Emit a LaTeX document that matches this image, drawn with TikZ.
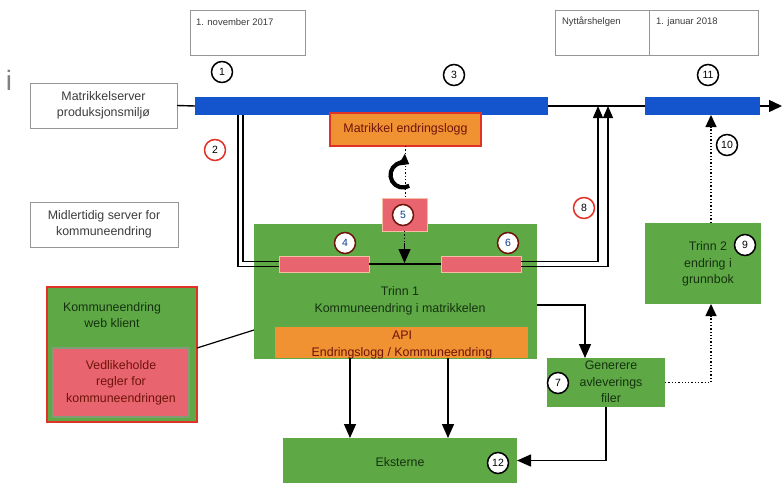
\documentclass[tikz,border=0pt]{standalone}
\usepackage{fontspec}
\setmainfont{Liberation Sans}
\usetikzlibrary{arrows.meta}
\definecolor{grn}{RGB}{95,168,70}
\definecolor{pnk}{RGB}{232,100,110}
\definecolor{org}{RGB}{240,145,50}
\definecolor{rbd}{RGB}{225,50,40}
\definecolor{blu}{RGB}{20,85,205}
\definecolor{gbd}{RGB}{150,150,150}
\definecolor{dtx}{RGB}{60,60,60}
\definecolor{gtx}{RGB}{20,50,15}
\definecolor{rtx}{RGB}{110,20,10}
\definecolor{pbd}{RGB}{245,190,160}
\begin{document}
\begin{tikzpicture}[x=1pt,y=-1pt,
  every node/.style={inner sep=0pt, outer sep=0pt},
  wbox/.style={draw=gbd, line width=0.8pt, fill=white, rectangle},
  gbox/.style={fill=grn, rectangle},
  bar/.style={fill=blu, rectangle},
  pbar/.style={fill=pnk, draw=pbd, line width=0.8pt, rectangle},
  obox/.style={fill=org, draw=rbd, line width=1.6pt, rectangle},
  txt/.style={align=center, font=\fontsize{12.4}{16.5}\selectfont},
  dtxt/.style={font=\fontsize{9.5}{11}\selectfont, text=dtx, anchor=west},
  num/.style={circle, draw=black, line width=1.5pt, fill=white, minimum size=21pt, font=\fontsize{10.5}{11}\selectfont},
  rnum/.style={num, draw=rbd},
  pnum/.style={num, draw=rtx, text=blu!70!black},
  conn/.style={line width=1.4pt},
  tip/.style={-{Triangle[length=14pt,width=12pt]}},
  arr/.style={conn, tip},
  dots/.style={line width=1.3pt, dotted}
]
\useasboundingbox (0,0) rectangle (782,483);

% stray letter
\node[text=gray, font=\fontsize{28}{30}\selectfont] (ii) at (9,80) {i};

% date boxes
\node[wbox, minimum width=115pt, minimum height=45pt] (d1) at (247.5,32.5) {};
\node[dtxt] (d1t) at (196,22) {1. november 2017};
\node[wbox, minimum width=94pt, minimum height=45pt] (d2a) at (602,32.5) {};
\node[wbox, minimum width=109pt, minimum height=45pt] (d2b) at (703.5,32.5) {};
\node[dtxt] (d2at) at (562,22) {Nyttårshelgen};
\node[dtxt] (d2bt) at (656,22) {1. januar 2018};

% left labels
\node[wbox, minimum width=147pt, minimum height=45pt, txt, text=dtx] (ms) at (103.5,105.5) {Matrikkelserver\\produksjonsmiljø};
\node[wbox, minimum width=148pt, minimum height=45pt, txt, text=dtx] (mid) at (104,224.5) {Midlertidig server for\\kommuneendring};

% time line
\node[bar, minimum width=353pt, minimum height=18pt] (bar1) at (371.5,106) {};
\node[bar, minimum width=115pt, minimum height=18pt] (bar2) at (702.5,106) {};
\coordinate (tend) at (782,106);
\draw[conn] (ms.east) -- (bar1.west);
\draw[conn] (bar1.east) -- (bar2.west);
\draw[conn, -{Triangle[length=13pt,width=12pt]}] (bar2.east) -- (tend);
\coordinate (j1) at (598,106);
\coordinate (j2) at (608,106);

% endringslogg
\node[obox, minimum width=151pt, minimum height=33pt, txt, text=rtx] (log) at (405.5,129.5) {Matrikkel endringslogg};

% Trinn 1
\node[gbox, minimum width=283pt, minimum height=135pt] (t1) at (395.5,291.5) {};
\node[txt, text=gtx] (t1t) at (400,301) {Trinn 1\\Kommuneendring i matrikkelen};
\node[fill=org, rectangle, minimum width=253pt, minimum height=31pt] (api) at (401.5,342.5) {};
\node[txt, text=rtx] (apit) at (402,345) {API\\Endringslogg / Kommuneendring};
\node[pbar, minimum width=90pt, minimum height=16pt] (p4) at (324,264) {};
\node[pbar, minimum width=80pt, minimum height=16pt] (p6) at (481,264) {};
\node[pbar, minimum width=45pt, minimum height=33pt] (b5) at (404.5,214.5) {};
\draw[conn] (p4.east) -- (p6.west);

% cycle symbol and dotted link
\draw[dots, line width=1pt] (log.south) -- (log.south |- b5.north);
\coordinate (cyc) at (403,175);
\draw[line width=4.2pt, -{Triangle[length=9pt,width=13pt]}] (cyc) ++(60:12.5) arc[start angle=60, end angle=300, radius=12.5];

% 5 -> line
\coordinate (m5) at (404.5,263);
\draw[dots, line width=1pt] (b5.south) -- ++(0,12);
\draw[arr] ([yshift=-12pt]b5.south) -- (m5);

% double lines left
\coordinate (s1) at (238,115);
\coordinate (s2) at (243,115);
\draw[line width=1.2pt] (s1) |- ([yshift=-2.5pt]p4.west);
\draw[line width=1.2pt] (s2) |- ([yshift=2.5pt]p4.west);
% double lines right
\draw[line width=1.2pt, -{Triangle[length=12pt,width=10pt]}] ([yshift=2.5pt]p6.east) -| (j1);
\draw[line width=1.2pt, -{Triangle[length=12pt,width=10pt]}] ([yshift=-2.5pt]p6.east) -| (j2);

% Trinn 2
\node[gbox, minimum width=116pt, minimum height=81pt] (t2) at (703,263.5) {};
\node[txt, text=gtx] (t2t) at (708,264) {Trinn 2\\endring i\\grunnbok};
\draw[dots, -{Triangle[length=12pt,width=11pt]}] ([xshift=8pt]t2.north) -- ([xshift=8pt]t2.north |- bar2.south);

% Generere
\node[gbox, minimum width=118pt, minimum height=49pt] (gen) at (606,382.5) {};
\node[txt, text=gtx] (gent) at (611,382) {Generere\\avleverings\\filer};
\draw[arr] ([yshift=-13.5pt]t1.east) -| ([xshift=-21pt]gen.north);
\draw[dots, -{Triangle[length=12pt,width=11pt]}] (gen.east) -| ([xshift=8pt]t2.south);

% Eksterne
\node[gbox, minimum width=234pt, minimum height=45pt] (ek) at (400,460.5) {};
\node[txt, text=gtx] (ekt) at (400,462) {Eksterne};
\draw[arr] ([xshift=-51.5pt]api.south) -- ([xshift=-51.5pt]api.south |- ek.north);
\draw[arr] ([xshift=46.5pt]api.south) -- ([xshift=46.5pt]api.south |- ek.north);
\draw[arr] (gen.south) |- (ek.east);

% web client
\node[gbox, draw=rbd, line width=1.8pt, minimum width=150pt, minimum height=135pt] (web) at (122,354.5) {};
\node[txt, text=gtx] (webt) at (112,315) {Kommuneendring\\web klient};
\node[fill=pnk, draw=gbd!60!grn, line width=1.5pt, rectangle, minimum width=136pt, minimum height=69pt, txt, text=rtx] (ved) at (121,382.5) {Vedlikeholde\\regler for\\kommuneendringen};
\draw[conn, line width=1.2pt] ([yshift=6.5pt]web.east) -- ([yshift=-38.5pt]t1.west);

% numbers
\node[num] (c1) at (222,72) {1};
\node[rnum] (c2) at (215,150) {2};
\node[num] (c3) at (454,75) {3};
\node[pnum] (c4) at (345,243) {4};
\node[pnum] (c5) at (403,215) {5};
\node[pnum] (c6) at (508,243) {6};
\node[num] (c7) at (558,383) {7};
\node[rnum] (c8) at (584,208) {8};
\node[num] (c9) at (745,245) {9};
\node[num] (c10) at (727,145) {10};
\node[num] (c11) at (708,75) {11};
\node[num] (c12) at (498,463) {12};
\end{tikzpicture}
\end{document}
